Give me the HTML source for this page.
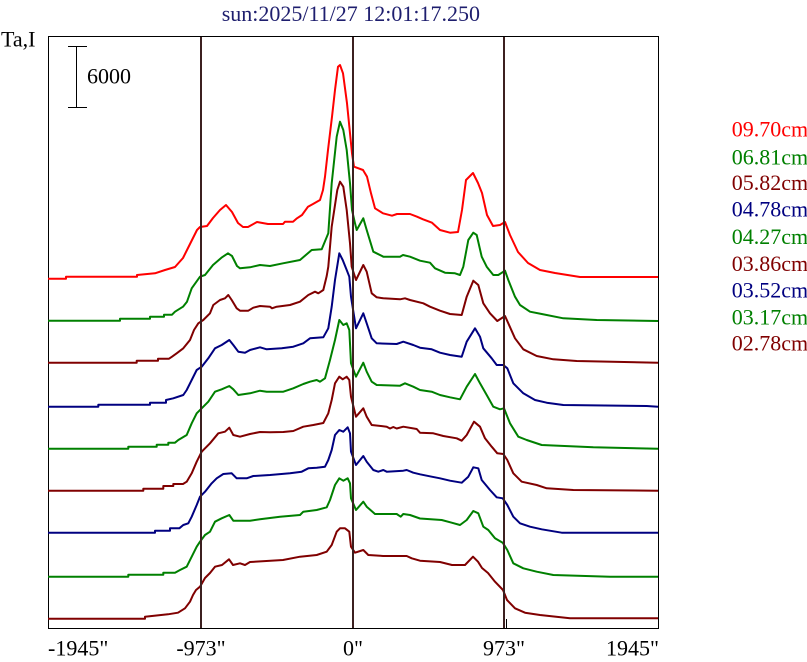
<!DOCTYPE html>
<html>
<head>
<meta charset="utf-8">
<style>
html,body{margin:0;padding:0;background:#fff;}
svg{display:block;}
text{font-family:"Liberation Serif",serif;font-size:22px;}
</style>
</head>
<body>
<svg width="807" height="662" viewBox="0 0 807 662" xmlns="http://www.w3.org/2000/svg">
<rect x="0" y="0" width="807" height="662" fill="#fff"/>
<text x="221.7" y="21" fill="#1e1e6e">sun:2025/11/27 12:01:17.250</text>
<text x="1" y="46.7" fill="#000">Ta,I</text>
<text x="87" y="83.3" fill="#000">6000</text>
<g stroke="#000" stroke-width="1" fill="none">
<line x1="76.5" y1="46.5" x2="76.5" y2="107.5"/>
<line x1="68" y1="46.5" x2="87" y2="46.5"/>
<line x1="68" y1="107.5" x2="87" y2="107.5"/>
<rect x="48.5" y="36.5" width="610" height="592"/>
<line x1="506.5" y1="619" x2="506.5" y2="628"/>
</g>
<g fill="none" stroke-width="2" stroke-linejoin="round">
<polyline stroke="#ff0000" points="48,278.7 66,278.7 66,276.7 137,276.7 137,275 155,273.3 165,270 175,267 183,258 188,248 193,238 197,230 200,227 207,226 213,218 220,210 226,205 232,212 238,223 243,227 248,227 257,222 268,224 283,224 285,221.7 293,221.7 297,218.3 302,215 308,206.7 313,204 320,200 323,190 325,176.7 328,150 332,116.7 335,90 338,66.7 340,65 343,73.3 347,103.3 350,133.3 352,153.3 354,166.7 363,170 367,176.7 371,193.3 375,208.3 383,213.3 392,215.7 397,214 410,214 417,216.7 423,219.3 432,222.7 440,230 450,232.7 458,232 462,210 466,180 473,173 478,183 482,193 487,215 493,226 500,225 505,222 510,235 518,252 528,263 540,270 555,273 580,277 658,277"/>
<polyline stroke="#008000" points="48,320.7 120,320.7 120,318.7 150,318.7 150,316.7 164,316.7 164,314.7 172,314.7 175,311.7 183,306.7 187,301.7 191.7,288.3 200,276.7 205,275 213,265 222,257.3 228,253.3 232,256 237,266 240,268.3 250,267.3 260,265 270,266 283,263.3 300,260 311.7,250 321.7,249.3 328.3,233.3 331.7,183.3 336.7,136.7 340,121.7 343.3,130 346.7,150 350,183.3 352,210 355,223.3 356.7,230 363.3,218.3 366.7,230 373.3,251.7 383.3,256.7 400,256.7 403,255 410,256.7 420,260.7 430,262.7 435,268.3 445,272.7 455,273.3 460,275 463.3,266.7 468.3,240 473.3,232.7 476.7,235 481.7,256.7 486.7,266.7 493.3,275 498.3,275 505,270.7 508.3,280 515,296.7 520,305 530,311.7 541.7,314 563.3,318.3 596.7,320 658,321"/>
<polyline stroke="#800000" points="48,362.7 136.7,362.7 136.7,360.7 158,360.7 158,358.7 169,358.7 172,356.7 176.7,353.3 183.3,348.3 190,340 194,330 198.3,323.3 203.3,320 210,313.3 213.3,305 220,300 225,298.3 228.3,295 231.7,300 236.7,308.3 240,310.7 248.3,310.7 253.3,307.7 260,306 270,306.7 272,308.3 276.7,306.7 290,305 300,301.7 308.3,295 315,291.7 318.3,293.3 323.3,290 326.7,276 328.3,266.7 331.7,226.7 337.3,190 340,181.7 343.3,186.7 346.7,210 350,243.3 351.7,266.7 356,280 363.3,265 366.7,271.7 371.7,293.3 376.7,297.3 383.3,298.3 400,299.3 405,298.3 410,300 423.3,303.3 430,306.7 440,310.7 450,314 461.7,315 466.7,296.7 473.3,280.7 478.3,285 483.3,303.3 490,313.3 497.3,321 505,316 508.3,323.3 515,338.3 523.3,349.3 536.7,356 553.3,359.3 576.7,361 658,362.7"/>
<polyline stroke="#000080" points="48,406.7 98.3,406.7 98.3,404.7 150,404.7 150,402.7 166,402.7 166,400 173.3,398.3 183.3,395 186.7,390 191.7,380 196.7,370 201.7,366.7 208.3,358.3 215,348.3 221.7,345 229.3,340 233.3,345 238.3,351.7 245,352.7 250,350 260,347.3 266.7,349.3 281.7,348.3 293.3,346.7 303.3,343.3 310,338.3 323.3,337.3 328.3,328.3 331.7,306.7 335,280 339.3,253.3 342.7,260 346.7,270 349.3,276.7 351,296.7 356,328.3 363.3,313.3 366.7,323.3 371.7,338.3 376.7,343.3 396.7,344 403.3,341.7 413.3,345 420,347.7 431.7,349.3 440,352.7 450,355 461.7,356.7 466.7,341.7 475,328.3 480,336.7 483.3,348.3 491.7,358.3 496.7,365 503.3,365 507.3,368.3 513.3,383.3 523.3,393.3 535,400 546.7,402.7 563.3,405 646.7,406 658,406.7"/>
<polyline stroke="#008000" points="48,448.7 128.3,448.7 128.3,446.7 156.7,446.7 156.7,444.7 168.3,444.7 168.3,442.7 175,442.7 178.3,440 186.7,435 191.7,423.3 196.7,413.3 201.7,408.3 208.3,401.7 215,391.7 221.7,389.3 229.3,386 233.3,389.3 238.3,395 250,393.3 260,390.7 266.7,391.7 283.3,391.7 293.3,388.3 303.3,384 310,381.7 316.7,380 320,381.7 325,378.3 330,360 335,340 339.3,320 343.3,325 346.7,323.3 349.3,330 351,363.3 356,376.7 363.3,362.7 366.7,371.7 371.7,381.7 376.7,385 400,385.7 405,383.3 413.3,386.7 420,390 431.7,391.7 440,395 450,397.3 460,399.3 466.7,386.7 475,374 480,383.3 486.7,395 493.3,406.7 500,409.3 504,408.3 510,423.3 518.3,436.7 526.7,440 541.7,445 593.3,447.3 658,448.7"/>
<polyline stroke="#800000" points="48,490.7 143.3,490.7 143.3,488.7 163.3,488.7 163.3,486 173.3,486 173.3,484 183,484 186.7,481.7 191.7,473.3 196.7,461.7 201.7,451.7 210,443.3 218.3,433.3 225,431.7 229.3,427.7 233.3,435 240,436.7 250,434 260,432 270,432.3 283.3,432 293.3,431 303.3,426.7 313.3,425 323.3,423 328.3,413.3 331.7,400 335,383.3 339.3,376.7 342.7,379.3 346.7,376.7 349.3,380 351,396.7 356,416.7 363.3,408.3 366.7,416.7 371.7,425 386.7,426.7 390,428.5 393.3,427 396.7,428.5 403.3,426.7 416.7,429 420,432.7 433.3,433.3 443.3,436 456.7,438.3 461.7,440.7 466.7,435 474,421.7 480,426.7 485,438.3 491.7,446.7 497.3,453.3 503.3,454 507.3,460 513.3,473.3 521.7,481.7 536.7,485 546.7,488.3 573.3,490 658,490.7"/>
<polyline stroke="#000080" points="48,532.7 155,532.7 155,530.7 170,530.7 170,528.3 179.3,528.3 183.3,525 188.3,523.3 191.7,516.7 196.7,505 200,496.7 205,491.7 211.7,483.3 216.7,478.3 223.3,474 231.7,473.3 236.7,478.3 246.7,478.3 253.3,476 270,475 290,473.3 301.7,471.7 308.3,468.3 316.7,467.7 325,466.7 328.3,460 331.7,450 335,435 339.3,430 343.3,431.7 347.7,427.3 350,433.3 351,451.7 356,465 363.3,456 366.7,461.7 373.3,470 378.3,471.7 383.3,470 386.7,471.7 403.3,470.7 406.7,470 413.3,472.7 420,474.3 431.7,476.7 440,478.3 450,480.7 461.7,482.7 468.3,476.7 473.3,467.3 478.3,468.3 481.7,480 490,490 496.7,497.3 502.7,498.3 507.3,505 513.3,516.7 520,523.3 530,526.7 541.7,529.3 561.7,532.7 658,532.7"/>
<polyline stroke="#008000" points="48,576.7 128.3,576.7 128.3,574.7 163.3,574.7 163.3,572.7 175,572.7 180,570 186.7,566.7 191.7,556.7 196.7,546.7 200,541.7 205,535 210,531.7 215,521.7 221.7,518.3 229.3,515 233.3,520.7 250,520.7 260,519.3 280,516.7 300,515 303.3,511.7 316.7,510 326.7,507.3 330,500 335,485 339.3,478.3 343.3,480.7 347.7,478.3 350,483.3 351,498.3 356,510 363.3,501.7 366.7,506.7 375,514 396.7,514 400.7,516.7 403.3,514 410,515 420,518.5 441.7,520 451.7,522.7 460,525 466.7,520 473.3,511 478.3,513.3 483.3,526.7 488.3,530 495,538.3 502.7,542.7 507.3,550 513.3,563.3 523.3,568.3 536.7,571.7 553.3,575 610,576.7 658,576.7"/>
<polyline stroke="#800000" points="48,618.7 145,618.7 145,616.7 168,614.3 178,612.7 185,608.3 190,601.7 193,595 196,590 200,586.7 205,578 210,573 215,566.7 222,565 229,559.3 233,565 240,563.3 245,565 250,562 283,560 300,556.7 316.7,555 326.7,551.7 331.7,545 336.7,531.7 340,528.3 345,528.3 349.3,531.7 351,546.7 355,552.7 363.3,550 368.3,555 383.3,556 406.7,556 411.7,558.3 420,560.7 440,562 452,565 465,565 473,556.7 478,561.7 482,568 488,573 495,581.7 503,590 507,600 515,608.3 525,612.7 540,615 570,618.3 658,618.3"/>
</g>
<g stroke="#3c2020" stroke-width="2">
<line x1="201" y1="37" x2="201" y2="628"/>
<line x1="353" y1="37" x2="353" y2="628"/>
<line x1="504" y1="37" x2="504" y2="628"/>
</g>
<g fill="#000">
<text x="48" y="655.5">-1945"</text>
<text x="201" y="655.5" text-anchor="middle">-973"</text>
<text x="353" y="655.5" text-anchor="middle">0"</text>
<text x="504" y="655.5" text-anchor="middle">973"</text>
<text x="659" y="655.5" text-anchor="end">1945"</text>
</g>
<text x="731.7" y="136.7" fill="#ff0000">09.70cm</text>
<text x="731.7" y="164.3" fill="#008000">06.81cm</text>
<text x="731.7" y="190" fill="#800000">05.82cm</text>
<text x="731.7" y="216.7" fill="#000080">04.78cm</text>
<text x="731.7" y="244" fill="#008000">04.27cm</text>
<text x="731.7" y="271" fill="#800000">03.86cm</text>
<text x="731.7" y="297.7" fill="#000080">03.52cm</text>
<text x="731.7" y="324.3" fill="#008000">03.17cm</text>
<text x="731.7" y="350.7" fill="#800000">02.78cm</text>
</svg>
</body>
</html>
